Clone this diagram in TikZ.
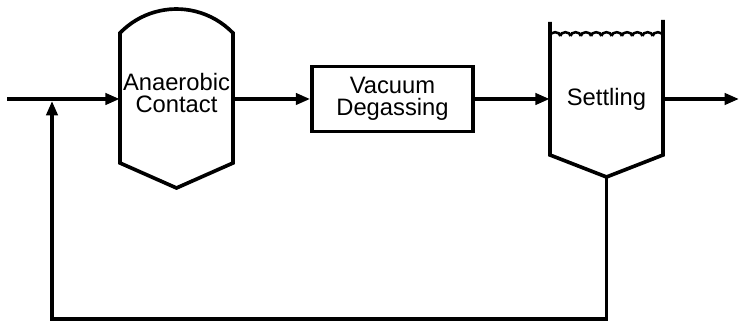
\documentclass[tikz,border=0pt]{standalone}
\usepackage{fontspec}
\setmainfont{Liberation Sans}
\usepackage{tikz}
\usetikzlibrary{positioning, calc, arrows.meta}

\begin{document}
\begin{tikzpicture}[
    x=0.25mm, y=0.25mm,
    font=\fontsize{16.9}{15.5}\selectfont,
    unit/.style={align=center, inner sep=0pt, minimum width=28.25mm, minimum height=10mm},
    box/.style={rectangle, draw=black, line width=2.6pt, align=center, minimum width=40.25mm, minimum height=16.25mm},
    vessel/.style={line width=2.6pt, line join=miter},
    pipe/.style={line width=2.5pt},
    arrow/.style={pipe, -{Triangle[length=3.6mm, width=2.8mm]}}
]

\useasboundingbox (0,0) rectangle (740,322);

% Process units
\node[unit] (anaerobic) at (176.5,229) {Anaerobic\\Contact};
\node[box] (vacuum) at (392.5,223) {Vacuum\\Degassing};
\node[unit] (settling) at (606.5,223) {Settling};

% Vessel outlines
\draw[vessel] (120,289) arc[start angle=136, end angle=44, radius=78.5]
    -- (233,159) -- (176.5,134) -- (120,159) -- cycle;
\draw[vessel] (550,300) -- (550,167) -- (606.5,145) -- (663,167) -- (663,302);
\foreach \i in {0,...,10}
    \draw[line width=1.8pt] ({550+10.27*\i},286) arc[start angle=180, end angle=0, x radius=5.135, y radius=3.8];

% Stream points
\coordinate (inlet) at (7,223);
\coordinate (junction) at (52,221);
\coordinate (outlet) at (739,223);
\coordinate (sludge) at (606.5,145);
\coordinate (bottom) at (0,3);

% Main flow
\draw[arrow] (inlet) -- (anaerobic.west |- inlet);
\draw[arrow] (anaerobic.east |- vacuum.west) -- (vacuum.west);
\draw[arrow] (vacuum.east) -- (settling.west);
\draw[arrow] (settling.east) -- (outlet);

% Recycle line
\draw[arrow] (sludge) -- (sludge |- bottom) -- (junction |- bottom) -- (junction);

\end{tikzpicture}
\end{document}
